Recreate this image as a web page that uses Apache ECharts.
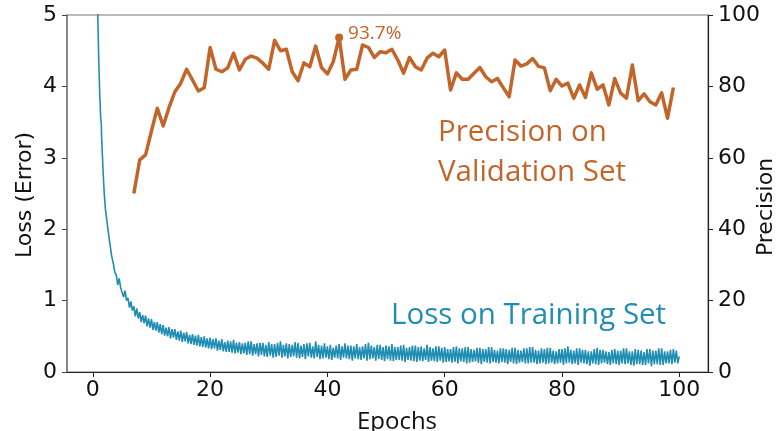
<!DOCTYPE html>
<html>
<head>
<meta charset="utf-8">
<title>Training loss and validation precision</title>
<script src="https://cdn.jsdelivr.net/npm/echarts@6/dist/echarts.min.js"></script>
<style>
  html, body { margin: 0; padding: 0; background: #fff; }
  #chart { width: 780px; height: 431px; }
</style>
</head>
<body>
<div id="chart"></div>
<script>
// Epoch axis tick labels
const epochTicks = [0, 20, 40, 60, 80, 100];

// Training loss: steep start as [epoch, loss] pairs
const lossHead = [
  [0.55, 6.5], [0.85, 5.0], [1.0, 4.4], [1.2, 3.85], [1.35, 3.55], [1.45, 3.48],
  [1.5, 3.3], [1.6, 3.1], [1.76, 2.8], [1.95, 2.5], [2.16, 2.27], [2.4, 2.12],
  [2.6, 1.99], [2.8, 1.86], [3.0, 1.75], [3.2, 1.63], [3.5, 1.52], [3.75, 1.40]
];

// Training loss afterwards, four readings per epoch from epoch 4 (one group per epoch)
const lossTailStart = 4;
const lossTailStep = 0.25;
const lossTail = [
  1.36, 1.22, 1.31, 1.18,  1.19, 1.05, 1.14, 1.00,  1.04, 0.90, 0.99, 0.86,
  0.92, 0.78, 0.89, 0.75,  0.84, 0.70, 0.80, 0.68,  0.79, 0.64, 0.75, 0.62,
  0.74, 0.59, 0.70, 0.58,  0.70, 0.55, 0.67, 0.53,  0.66, 0.51, 0.62, 0.50,
  0.63, 0.47, 0.60, 0.48,  0.60, 0.45, 0.57, 0.44,  0.58, 0.42, 0.55, 0.43,
  0.56, 0.40, 0.52, 0.39,  0.53, 0.38, 0.51, 0.37,  0.52, 0.36, 0.49, 0.35,
  0.50, 0.34, 0.47, 0.33,  0.48, 0.32, 0.46, 0.33,  0.47, 0.30, 0.44, 0.31,
  0.46, 0.29, 0.42, 0.28,  0.44, 0.28, 0.43, 0.27,  0.45, 0.26, 0.41, 0.27,
  0.42, 0.25, 0.40, 0.26,  0.41, 0.24, 0.43, 0.25,  0.43, 0.23, 0.39, 0.25,
  0.40, 0.22, 0.41, 0.24,  0.41, 0.22, 0.38, 0.21,  0.42, 0.23, 0.39, 0.20,
  0.39, 0.21, 0.41, 0.23,  0.43, 0.20, 0.38, 0.22,  0.40, 0.19, 0.39, 0.21,
  0.38, 0.22, 0.42, 0.20,  0.41, 0.19, 0.37, 0.21,  0.39, 0.18, 0.40, 0.22,
  0.41, 0.20, 0.36, 0.19,  0.43, 0.21, 0.38, 0.18,  0.37, 0.19, 0.40, 0.20,
  0.36, 0.18, 0.38, 0.17,  0.34, 0.20, 0.37, 0.19,  0.39, 0.17, 0.36, 0.20,
  0.40, 0.19, 0.37, 0.18,  0.37, 0.16, 0.36, 0.19,  0.39, 0.18, 0.35, 0.17,
  0.36, 0.19, 0.39, 0.16,  0.41, 0.18, 0.37, 0.19,  0.35, 0.16, 0.38, 0.18,
  0.38, 0.17, 0.35, 0.15,  0.37, 0.18, 0.36, 0.16,  0.39, 0.15, 0.35, 0.17,
  0.35, 0.17, 0.37, 0.16,  0.38, 0.14, 0.34, 0.17,  0.35, 0.16, 0.37, 0.15,
  0.37, 0.14, 0.35, 0.16,  0.36, 0.15, 0.33, 0.17,  0.38, 0.14, 0.35, 0.16,
  0.33, 0.15, 0.36, 0.14,  0.36, 0.16, 0.34, 0.13,  0.35, 0.14, 0.32, 0.15,
  0.32, 0.13, 0.35, 0.14,  0.36, 0.12, 0.33, 0.15,  0.33, 0.14, 0.35, 0.12,
  0.35, 0.13, 0.32, 0.14,  0.31, 0.15, 0.34, 0.13,  0.34, 0.11, 0.32, 0.14,
  0.32, 0.13, 0.35, 0.12,  0.35, 0.14, 0.31, 0.13,  0.30, 0.12, 0.33, 0.14,
  0.33, 0.13, 0.32, 0.11,  0.31, 0.14, 0.34, 0.12,  0.34, 0.11, 0.31, 0.13,
  0.30, 0.14, 0.33, 0.12,  0.33, 0.12, 0.35, 0.13,  0.35, 0.13, 0.31, 0.11,
  0.30, 0.12, 0.33, 0.13,  0.32, 0.11, 0.34, 0.12,  0.34, 0.13, 0.30, 0.11,
  0.29, 0.12, 0.32, 0.13,  0.32, 0.10, 0.33, 0.12,  0.36, 0.13, 0.31, 0.11,
  0.30, 0.12, 0.33, 0.10,  0.33, 0.13, 0.31, 0.12,  0.31, 0.11, 0.29, 0.09,
  0.29, 0.12, 0.32, 0.11,  0.34, 0.10, 0.31, 0.12,  0.31, 0.13, 0.29, 0.11,
  0.28, 0.10, 0.31, 0.12,  0.32, 0.11, 0.30, 0.10,  0.30, 0.12, 0.33, 0.11,
  0.33, 0.12, 0.29, 0.10,  0.29, 0.09, 0.32, 0.11,  0.31, 0.11, 0.30, 0.10,
  0.28, 0.10, 0.32, 0.12,  0.32, 0.08, 0.30, 0.11,  0.30, 0.11, 0.33, 0.10,
  0.33, 0.10, 0.29, 0.12,  0.29, 0.12, 0.31, 0.11,  0.32, 0.13, 0.30, 0.12,
  0.22
];

// Validation precision (%), one value per epoch from epoch 7 to 99
const precisionStartEpoch = 7;
const precision = [
  50.0, 59.4, 60.8, 67.5, 73.9, 68.9, 74.1, 78.5, 80.9, 84.8,
  81.8, 78.7, 79.6, 90.9, 84.8, 84.1, 85.2, 89.3, 84.6, 87.6,
  88.5, 87.9, 86.5, 84.8, 92.9, 90.0, 90.4, 84.1, 81.6, 86.6,
  85.5, 91.3, 85.3, 83.5, 86.9, 93.7, 82.0, 84.6, 84.8, 91.6,
  90.9, 88.1, 89.7, 89.4, 90.4, 87.4, 83.7, 88.1, 85.5, 84.6,
  87.9, 89.3, 88.3, 90.2, 79.0, 83.8, 82.0, 82.0, 83.7, 85.3,
  82.7, 81.3, 82.2, 79.6, 77.1, 87.4, 85.7, 86.3, 87.8, 85.6,
  85.2, 78.8, 82.0, 80.1, 80.9, 76.7, 80.4, 76.9, 83.8, 79.2,
  80.4, 74.8, 82.2, 78.1, 76.7, 86.0, 76.0, 77.9, 75.7, 74.8,
  78.2, 71.1, 79.7
];

const lossColor = '#208db3';
const precColor = '#c2652b';
const tickFont = 'DejaVu Sans';
const textFont = '"Open Sans", "Noto Sans", sans-serif';

const lossData = lossHead.concat(
  lossTail.map((v, i) => [lossTailStart + i * lossTailStep, v])
);
const precData = precision.map((v, i) => [precisionStartEpoch + i, v]);

let best = 0;
precision.forEach((v, i) => { if (v > precision[best]) best = i; });
const bestPoint = [precisionStartEpoch + best, precision[best]];

const chart = echarts.init(document.getElementById('chart'), null, { renderer: 'canvas' });

chart.setOption({
  animation: false,
  backgroundColor: '#ffffff',
  grid: {
    left: 67, right: 72, top: 15, bottom: 59,
    show: true, borderColor: '#777', borderWidth: 1
  },
  xAxis: {
    type: 'value',
    min: -4.4, max: 104.9,
    splitLine: { show: false },
    axisLine: { onZero: false, lineStyle: { color: '#222', width: 1.2 } },
    axisTick: { show: true, length: 5, customValues: epochTicks, lineStyle: { color: '#222' } },
    axisLabel: {
      customValues: epochTicks, margin: 7,
      fontFamily: tickFont, fontSize: 22, color: '#111'
    }
  },
  yAxis: [
    {
      type: 'value', min: 0, max: 5, interval: 1, position: 'left',
      splitLine: { show: false },
      axisLine: { show: true, onZero: false, lineStyle: { color: '#777', width: 1.5 } },
      axisTick: { show: true, length: 5, lineStyle: { color: '#444' } },
      axisLabel: { margin: 10, fontFamily: tickFont, fontSize: 22, color: '#111' }
    },
    {
      type: 'value', min: 0, max: 100, interval: 20, position: 'right',
      splitLine: { show: false },
      axisLine: { show: true, onZero: false, lineStyle: { color: '#222', width: 1.2 } },
      axisTick: { show: true, length: 5, lineStyle: { color: '#222' } },
      axisLabel: { margin: 10, fontFamily: tickFont, fontSize: 22, color: '#111' }
    }
  ],
  series: [
    {
      name: 'Loss on Training Set',
      type: 'line', yAxisIndex: 0,
      data: lossData,
      showSymbol: false, clip: true,
      lineStyle: { color: lossColor, width: 1.6 },
      z: 2
    },
    {
      name: 'Precision on Validation Set',
      type: 'line', yAxisIndex: 1,
      data: precData,
      showSymbol: false, clip: true,
      lineStyle: { color: precColor, width: 3.5, join: 'round' },
      z: 3
    },
    {
      name: 'Best precision',
      type: 'scatter', yAxisIndex: 1,
      data: [bestPoint],
      symbolSize: 8,
      itemStyle: { color: precColor, opacity: 1 },
      label: {
        show: true, position: 'right', distance: 5, offset: [0, -4],
        formatter: p => p.value[1].toFixed(1) + '%',
        fontFamily: textFont, fontSize: 19, color: precColor,
        opacity: 1, textBorderWidth: 0
      },
      z: 4
    }
  ],
  graphic: [
    {
      type: 'text', x: 25, y: 195, rotation: Math.PI / 2,
      style: {
        text: 'Loss (Error)', font: '22px "DejaVu Sans"', fill: '#111',
        align: 'center', verticalAlign: 'middle'
      }
    },
    {
      type: 'text', x: 766, y: 207, rotation: Math.PI / 2,
      style: {
        text: 'Precision', font: '22px "DejaVu Sans"', fill: '#111',
        align: 'center', verticalAlign: 'middle'
      }
    },
    {
      type: 'text', x: 397, y: 422,
      style: {
        text: 'Epochs', font: '24px ' + textFont, fill: '#111',
        align: 'center', verticalAlign: 'middle'
      }
    },
    {
      type: 'text', x: 438, y: 133,
      style: {
        text: 'Precision on', font: '29.5px ' + textFont, fill: precColor,
        align: 'left', verticalAlign: 'middle'
      }
    },
    {
      type: 'text', x: 438, y: 173,
      style: {
        text: 'Validation Set', font: '29.5px ' + textFont, fill: precColor,
        align: 'left', verticalAlign: 'middle'
      }
    },
    {
      type: 'text', x: 391, y: 316,
      style: {
        text: 'Loss on Training Set', font: '29.5px ' + textFont, fill: lossColor,
        align: 'left', verticalAlign: 'middle'
      }
    }
  ]
});
</script>
</body>
</html>
